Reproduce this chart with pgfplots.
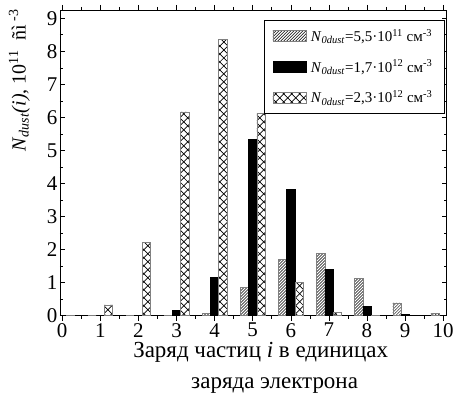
\documentclass[border=0pt]{standalone}
\usepackage{fontspec}
\setmainfont{Liberation Serif}
\usepackage{pgfplots}
\pgfplotsset{compat=1.18}
\usetikzlibrary{patterns}

\pgfdeclarepatternformonly{diagcross}{\pgfqpoint{-0.5pt}{-0.5pt}}{\pgfqpoint{8.5pt}{8.5pt}}{\pgfqpoint{8pt}{8pt}}{%
 \pgfsetlinewidth{0.7pt}%
 \pgfpathmoveto{\pgfqpoint{0pt}{0pt}}\pgfpathlineto{\pgfqpoint{8pt}{8pt}}%
 \pgfpathmoveto{\pgfqpoint{0pt}{8pt}}\pgfpathlineto{\pgfqpoint{8pt}{0pt}}%
 \pgfusepath{stroke}}

\pgfdeclarepatternformonly{hatch}{\pgfqpoint{-0.5pt}{-0.5pt}}{\pgfqpoint{3.5pt}{3.5pt}}{\pgfqpoint{3pt}{3pt}}{%
 \pgfsetlinewidth{0.5pt}%
 \pgfpathmoveto{\pgfqpoint{0pt}{0pt}}\pgfpathlineto{\pgfqpoint{3.1pt}{3.1pt}}%
 \pgfusepath{stroke}}

\pgfplotsset{swatch/.style={legend image code/.code={\draw[##1] (0pt,-5.5pt) rectangle (34pt,5.5pt);}}}

\begin{document}
\begin{tikzpicture}
\begin{axis}[
  scale only axis,
  width=387pt, height=306pt,
  xmin=-0.06, xmax=10.09,
  ymin=0, ymax=9.25,
  xtick={0,...,10}, ytick={0,...,9},
  minor x tick num=1, minor y tick num=1,
  tick align=inside,
  major tick length=5pt, minor tick length=3pt,
  axis line style={line width=0.8pt},
  every tick/.style={black, line width=0.6pt},
  /pgf/number format/assume math mode=true,
  tick label style={font=\fontsize{21}{21}\selectfont},
  xticklabel style={yshift=1pt},
  yticklabel style={xshift=1pt},
  ybar, bar width=0.215,
  xlabel={Заряд частиц \textit{i} в единицах\\\hspace*{28pt}заряда электрона},
  xlabel style={at={(axis description cs:0.519,-0.087)}, anchor=north, inner sep=0pt, align=center, font=\fontsize{23}{31}\selectfont},
  ylabel={\textit{N}\textsubscript{\textit{dust}}\textit{(i)}, 10\textsuperscript{11} \ ñì\textsuperscript{\ -3}},
  ylabel style={at={(axis description cs:-0.105,0.77)}, anchor=center, font=\fontsize{20}{20}\selectfont},
  legend style={at={(0.995,0.967)}, anchor=north east, font=\fontsize{15}{15}\selectfont,
     draw=black, line width=0.6pt, row sep=13pt, inner xsep=8pt, inner ysep=7pt,
     nodes={inner xsep=4pt}},
  legend cell align=left,
]
\addplot[swatch, bar shift=-0.215, draw=gray, line width=0.5pt, pattern=hatch] coordinates {
 (0,0) (1,0) (2,0.02) (3,0) (4,0.08) (5,0.85) (6,1.71) (7,1.88) (8,1.12) (9,0.39) (10,0.07)};
\addlegendentry{\textit{N}\textsubscript{\textit{0dust}}=5,5·10\textsuperscript{11} см\textsuperscript{-3}}
\addplot[swatch, bar shift=0, draw=black, line width=0.5pt, fill=black] coordinates {
 (2,0.01) (3,0.16) (4,1.16) (5,5.33) (6,3.82) (7,1.41) (8,0.28) (9,0.03)};
\addlegendentry{\textit{N}\textsubscript{\textit{0dust}}=1,7·10\textsuperscript{12} см\textsuperscript{-3}}
\addplot[swatch, bar shift=0.215, draw=gray, line width=0.5pt, pattern=diagcross] coordinates {
 (0,0.01) (1,0.33) (2,2.22) (3,6.17) (4,8.35) (5,6.13) (6,1.0) (7,0.11) (8,0.02)};
\addlegendentry{\textit{N}\textsubscript{\textit{0dust}}=2,3·10\textsuperscript{12} см\textsuperscript{-3}}
\end{axis}
\path ([xshift=-60pt,yshift=-78pt]current axis.south west) rectangle ([xshift=10pt,yshift=10pt]current axis.north east);
\end{tikzpicture}
\end{document}
